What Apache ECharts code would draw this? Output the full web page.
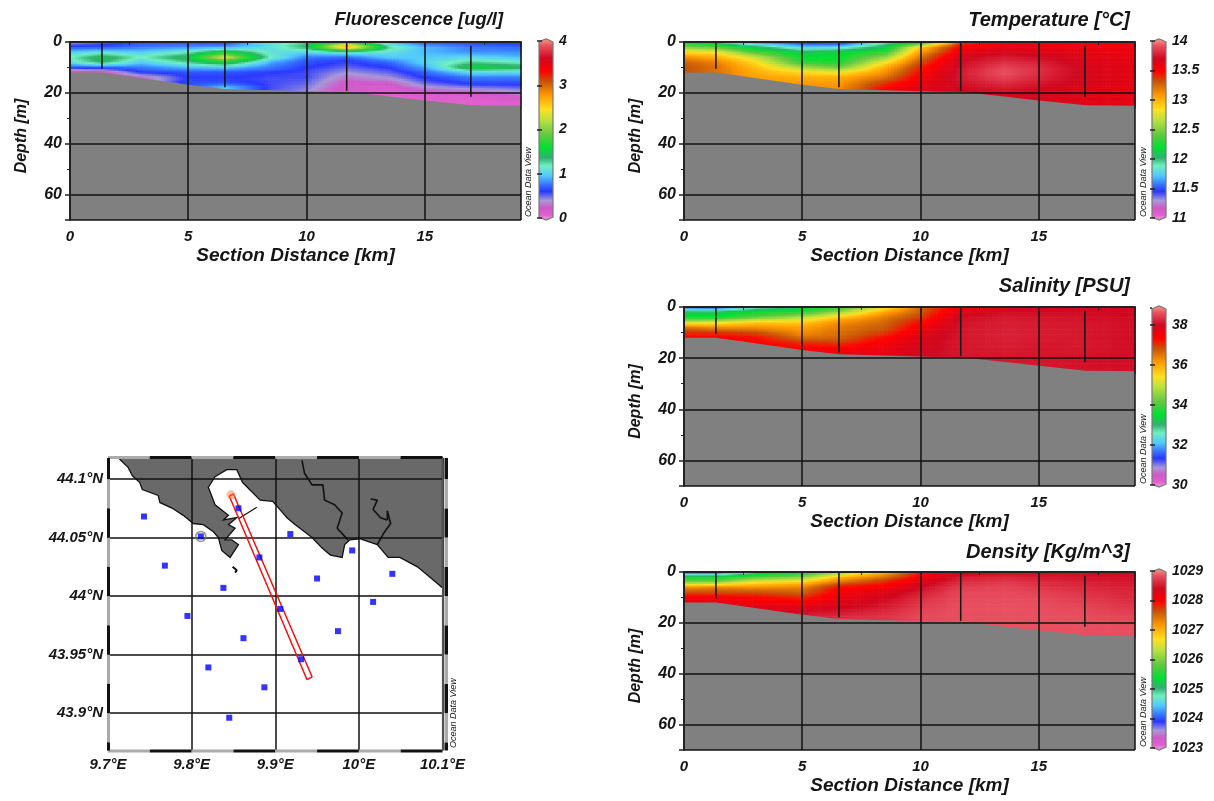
<!DOCTYPE html>
<html>
<head>
<meta charset="utf-8">
<style>html,body{margin:0;padding:0;background:#fff}#c{width:1214px;height:801px}</style>
<script src="https://cdn.jsdelivr.net/npm/echarts@6/dist/echarts.min.js"></script>
</head>
<body>
<div id="c"></div>
<script>
// ---------- Section data ----------
const distances = [0, 1.35, 3, 5, 6.55, 8.5, 10, 11.7, 13.5, 15, 17, 19.07];
const depths = [0, 2, 4, 6, 8, 10, 12, 14, 16, 18, 20, 22, 24, 26];
const seabedDistance = [0, 1.35, 3, 5, 6.55, 8.5, 10, 11.7, 12.5, 15, 17, 19.07];
const seabedDepth = [12, 12, 14.2, 16.8, 18.5, 19, 19.4, 19.8, 20.4, 23, 24.9, 25.1];
const stationDistance = [1.35, 6.55, 11.7, 16.95];
const stationTop = [0, 0, 0, 1.5];
const stationBottom = [10.5, 17.8, 19.2, 21.5];

const fluorescence = [
 [.42,.7,1.0,1.2,1.1,.7,.15],
 [.55,.7,1.1,1.5,1.4,.75,.2,.15],
 [.7,.8,1.0,1.2,1.0,.8,.65,.3],
 [.7,.85,1.2,1.5,1.3,.95,.7,.65,.7,.7],
 [.65,.9,1.6,2.35,1.6,1.0,.7,.65,.7,1.0,1.0],
 [1.1,1.1,1.1,1.2,.9,.8,.65,.6,.6,.6,.55],
 [1.3,1.4,1.05,.8,.7,.65,.6,.6,.55,.5,.45],
 [1.8,2.8,1.2,.75,.62,.55,.45,.35,.27,.22,.2,.18],
 [.9,1.3,1.1,1.0,.75,.65,.55,.45,.3,.2,.15,.12],
 [.7,.95,.95,1.0,1.05,.9,.75,.65,.55,.4,.2,.15,.12],
 [.65,.8,.85,1.05,1.3,1.6,1.05,.8,.7,.5,.25,.15,.12],
 [.6,.75,.85,.95,1.2,1.45,1.05,.8,.7,.55,.4,.25,.15]
];
const temperature = [
 [12.2,12.5,12.85,13.1,13.25,13.3,13.3],
 [12.0,12.4,12.8,13.0,13.15,13.2,13.2],
 [11.6,12.1,12.35,12.7,12.85,12.95,13.0,13.05],
 [11.45,11.75,12.1,12.2,12.3,12.6,12.85,13.0,13.05,13.1],
 [11.35,11.8,12.15,12.2,12.25,12.45,12.8,13.0,13.05,13.1],
 [11.9,12.1,12.3,12.55,12.8,13.0,13.1,13.2,13.35,13.45,13.5],
 [12.1,12.9,13.05,13.2,13.3,13.4,13.45,13.5,13.55,13.6,13.6],
 [13.3,13.5,13.55,13.65,13.68,13.7,13.72,13.72,13.7,13.68,13.66],
 [13.5,13.58,13.65,13.72,13.78,13.84,13.88,13.84,13.78,13.72,13.68,13.66],
 [13.5,13.56,13.62,13.68,13.74,13.78,13.78,13.76,13.72,13.68,13.66,13.64,13.63],
 [13.48,13.54,13.58,13.6,13.62,13.64,13.64,13.64,13.64,13.62,13.62,13.6,13.6],
 [13.48,13.52,13.54,13.56,13.57,13.58,13.58,13.58,13.58,13.58,13.58,13.58,13.58]
];
const salinity = [
 [31.6,33.2,33.6,35.0,36.5,37.0,37.2],
 [31.4,33.2,33.6,35.2,36.2,37.0,37.3],
 [32.6,33.5,34.2,35.6,36.2,36.8,37.2,37.3],
 [33.3,33.8,34.8,35.6,36.0,36.2,36.5,37.0,37.3,37.4],
 [33.8,34.6,35.6,36.2,36.4,36.5,36.6,36.9,37.3,37.5],
 [35.2,36.0,36.4,36.6,36.7,36.9,37.2,37.4,37.5,37.6,37.6],
 [36.6,36.7,36.9,37.2,37.4,37.6,37.7,37.8,37.8,37.85,37.85],
 [37.4,37.7,37.9,37.95,38.0,38.0,38.0,38.0,38.0,38.0,38.0],
 [37.7,37.9,38.0,38.05,38.05,38.08,38.08,38.05,38.05,38.0,38.0,38.0],
 [37.8,37.9,38.0,38.02,38.05,38.05,38.05,38.02,38.0,38.0,38.0,38.0,38.0],
 [37.8,37.9,37.95,37.98,38.0,38.0,38.0,38.0,38.0,37.98,37.95,37.95,37.95],
 [37.8,37.85,37.9,37.92,37.92,37.92,37.92,37.92,37.92,37.92,37.92,37.92,37.92]
];
const density = [
 [1024,1025.4,1026.0,1027.2,1027.6,1028.0,1028.15],
 [1023.9,1025.4,1026.0,1027.3,1027.6,1028.0,1028.2],
 [1024.9,1025.8,1026.6,1027.2,1027.6,1027.9,1028.05,1028.2],
 [1025.4,1026.0,1026.8,1027.3,1027.5,1027.75,1028.0,1028.2,1028.4,1028.5],
 [1026.0,1026.9,1027.4,1027.9,1028.0,1028.1,1028.2,1028.3,1028.45,1028.55],
 [1027.0,1027.4,1027.8,1028.0,1028.2,1028.3,1028.4,1028.45,1028.55,1028.6,1028.6],
 [1027.8,1028.0,1028.2,1028.35,1028.45,1028.55,1028.6,1028.65,1028.7,1028.72,1028.72],
 [1028.2,1028.45,1028.55,1028.65,1028.7,1028.72,1028.74,1028.75,1028.75,1028.75,1028.75],
 [1028.35,1028.5,1028.62,1028.7,1028.72,1028.74,1028.75,1028.76,1028.76,1028.76,1028.76,1028.76],
 [1028.35,1028.45,1028.55,1028.62,1028.68,1028.72,1028.74,1028.75,1028.76,1028.76,1028.76,1028.76,1028.76],
 [1028.35,1028.4,1028.47,1028.52,1028.58,1028.62,1028.66,1028.7,1028.72,1028.74,1028.75,1028.75,1028.75],
 [1028.32,1028.38,1028.42,1028.47,1028.5,1028.52,1028.55,1028.6,1028.65,1028.7,1028.72,1028.74,1028.75]
];

// ---------- Colour scale ----------
const paletteStops = [0,.03,.07,.11,.16,.2,.245,.30,.345,.40,.47,.55,.61,.69,.76,.82,.89,.96,1];
const paletteColors = ['#f5b0e8','#e060d0','#d058c8','#a898d8','#2838ff','#3878ff','#50c8ff','#70f0c0','#30b070','#00e030','#60c840','#b8e040','#ffe020','#ff9800','#c85808','#ff0000','#d00820','#e85060','#f8a088'];

// ---------- Map data ----------
const stationLon = [9.743,9.811,9.856,9.768,9.881,9.838,9.918,9.992,9.950,10.040,9.795,9.906,9.862,9.975,10.017,9.931,9.820,9.887,9.845];
const stationLat = [44.068,44.051,44.075,44.026,44.033,44.007,44.053,44.039,44.015,44.019,43.983,43.989,43.964,43.970,43.995,43.946,43.939,43.922,43.896];
const coastLon = [9.714,9.724,9.729,9.738,9.741,9.760,9.762,9.777,9.790,9.802,9.814,9.826,9.832,9.836,9.846,9.856,9.848,9.840,9.852,9.844,9.854,9.838,9.844,9.828,9.820,9.828,9.842,9.854,9.861,9.882,9.897,9.908,9.914,9.924,9.944,9.956,9.966,9.980,9.983,9.989,10.001,10.022,10.035,10.049,10.070,10.085,10.1,10.1,9.714];
const coastLat = [44.117,44.110,44.103,44.097,44.091,44.086,44.080,44.075,44.069,44.062,44.061,44.055,44.050,44.039,44.033,44.044,44.048,44.048,44.058,44.061,44.067,44.065,44.069,44.078,44.093,44.102,44.108,44.108,44.097,44.082,44.081,44.072,44.067,44.061,44.050,44.041,44.035,44.033,44.044,44.048,44.049,44.044,44.033,44.033,44.025,44.016,44.007,44.118,44.118];
const river1Lon = [9.932,9.935,9.944,9.957,9.959,9.971,9.980,9.974,9.987];
const river1Lat = [44.116,44.105,44.095,44.095,44.082,44.078,44.071,44.058,44.048];
const river2Lon = [10.014,10.022,10.017,10.026,10.034,10.034,10.038,10.029,10.022];
const river2Lat = [44.083,44.082,44.074,44.067,44.065,44.073,44.062,44.053,44.044];
const bayLineLon = [9.856,9.878];
const bayLineLat = [44.066,44.076];
const islandLon = [9.849,9.854,9.852];
const islandLat = [44.025,44.022,44.020];
const sectionLon = [9.845,9.850,9.944,9.938,9.845];
const sectionLat = [44.0855,44.0872,43.931,43.9285,44.0855];
const lonEdges = [9.7,9.75,9.8,9.85,9.9,9.95,10,10.05,10.1];
const latEdges = [43.868,43.875,43.9,43.925,43.95,43.975,44,44.025,44.05,44.075,44.1,44.118];
const latTicks = [43.9,43.95,44,44.05,44.1];

// ---------- Helpers ----------
const FONT = '"Liberation Sans", Arial, sans-serif';
const INK = '#151515';
function hex(c){return [1,3,5].map(i=>parseInt(c.substr(i,2),16));}
const paletteRgb = paletteColors.map(hex);
function colorAt(t){
  t=Math.max(0,Math.min(1,t));
  let i=0; while(i<paletteStops.length-2 && t>paletteStops[i+1]) i++;
  const f=(t-paletteStops[i])/(paletteStops[i+1]-paletteStops[i]);
  const a=paletteRgb[i],b=paletteRgb[i+1];
  return 'rgb('+[0,1,2].map(k=>Math.round(a[k]+(b[k]-a[k])*f)).join(',')+')';
}
function cell(field,i,j){const col=field[i];return j<col.length?col[j]:col[col.length-1];}
const textStyleBold={fontFamily:FONT,fontWeight:'bold',fontStyle:'italic',color:INK};

const panels=[
 {title:'Fluorescence [ug/l]',titleSize:18.4,field:fluorescence,left:70,top:42,width:451,height:178,barLeft:539,barTop:41,barH:177,min:0,max:4,tick:1,titleRight:503,titleTop:11,odvX:528},
 {title:'Temperature [°C]',titleSize:20,field:temperature,left:684,top:42,width:451,height:178,barLeft:1152,barTop:41,barH:177,min:11,max:14,tick:.5,titleRight:1130,titleTop:10,odvX:1143},
 {title:'Salinity [PSU]',titleSize:20,field:salinity,left:684,top:307,width:451,height:179,barLeft:1152,barTop:308,barH:177,min:30,max:38.85,tick:2,titleRight:1130,titleTop:276,odvX:1143},
 {title:'Density [Kg/m^3]',titleSize:20,field:density,left:684,top:572,width:451,height:178,barLeft:1152,barTop:571,barH:177,min:1023,max:1029,tick:1,titleRight:1130,titleTop:542,odvX:1143}
];

const grids=[],xAxes=[],yAxes=[],series=[],titles=[],graphics=[];

function addOdv(x,y){
  graphics.push({type:'text',x:x,y:y,rotation:Math.PI/2,
    style:{text:'Ocean Data View',font:'italic 9px '+FONT,fill:INK,textAlign:'left',textVerticalAlign:'middle'},z:50});
}

panels.forEach(p=>{
  const g=grids.length;
  const gy=yAxes.length;
  grids.push({left:p.left,top:p.top,width:p.width,height:p.height});
  xAxes.push({gridIndex:g,type:'value',min:0,max:19.07,interval:5,z:10,
    name:'Section Distance [km]',nameLocation:'middle',nameGap:26,
    nameTextStyle:Object.assign({fontSize:19},textStyleBold),
    axisLine:{lineStyle:{color:'#222',width:2}},
    axisTick:{length:5,lineStyle:{color:'#222',width:1.5}},
    minorTick:{show:true,splitNumber:2,length:3,lineStyle:{color:'#222',width:1}},
    axisLabel:Object.assign({fontSize:15,margin:9,showMaxLabel:false},textStyleBold),
    splitLine:{show:true,lineStyle:{color:'#111',width:1.5}}});
  yAxes.push({gridIndex:g,type:'value',inverse:true,min:0,max:70,interval:20,z:10,
    name:'Depth [m]',nameLocation:'middle',nameGap:40,nameRotate:90,
    nameTextStyle:Object.assign({fontSize:16,padding:[0,10,0,0]},textStyleBold),
    axisLine:{lineStyle:{color:'#222',width:2}},
    axisTick:{length:5,lineStyle:{color:'#222',width:1.5}},
    minorTick:{show:true,splitNumber:2,length:3,lineStyle:{color:'#222',width:1}},
    axisLabel:Object.assign({fontSize:16,margin:8,showMaxLabel:false},textStyleBold),
    splitLine:{show:true,lineStyle:{color:'#111',width:1.5}}});

  // field cells
  const cells=[];
  for(let i=0;i<distances.length-1;i++)for(let j=0;j<depths.length-1;j++)cells.push([distances[i],depths[j],cell(p.field,i,j),i,j]);
  series.push({type:'custom',xAxisIndex:g,yAxisIndex:gy,z:1,silent:true,progressive:0,animation:false,
    encode:{x:0,y:1},data:cells,
    renderItem:(params,api)=>{
      const i=api.value(3),j=api.value(4);
      const a=api.coord([distances[i],depths[j]]),b=api.coord([distances[i+1],depths[j+1]]);
      const nx=Math.max(2,Math.ceil((b[0]-a[0])/3)),ny=3;
      const w=(b[0]-a[0])/nx,h=(b[1]-a[1])/ny,kids=[];
      const v00=cell(p.field,i,j),v10=cell(p.field,i+1,j),v01=cell(p.field,i,j+1),v11=cell(p.field,i+1,j+1);
      for(let m=0;m<nx;m++)for(let n=0;n<ny;n++){
        const fx=(m+.5)/nx,fy=(n+.5)/ny;
        const v=v00*(1-fx)*(1-fy)+v10*fx*(1-fy)+v01*(1-fx)*fy+v11*fx*fy;
        kids.push({type:'rect',shape:{x:a[0]+m*w,y:a[1]+n*h,width:w+.6,height:h+.6},
          style:{fill:colorAt((v-p.min)/(p.max-p.min))}});
      }
      return {type:'group',children:kids};
    }});
  // seabed
  series.push({type:'custom',xAxisIndex:g,yAxisIndex:gy,z:3,silent:true,animation:false,
    encode:{x:0,y:1},data:seabedDepth.map((d,i)=>[seabedDistance[i],d]),
    renderItem:(params,api)=>{
      if(params.dataIndex!==0)return null;
      const pts=seabedDepth.map((d,i)=>api.coord([seabedDistance[i],d]));
      pts.push(api.coord([19.07,70]),api.coord([0,70]));
      return {type:'polygon',shape:{points:pts},style:{fill:'#808080'}};
    }});
  // station casts
  series.push({type:'custom',xAxisIndex:g,yAxisIndex:gy,z:5,silent:true,animation:false,
    encode:{x:0,y:1},data:stationDistance.map((d,i)=>[d,stationBottom[i],stationTop[i]]),
    renderItem:(params,api)=>{
      const a=api.coord([api.value(0),api.value(2)]),b=api.coord([api.value(0),api.value(1)]);
      return {type:'line',shape:{x1:a[0],y1:a[1],x2:b[0],y2:b[1]},style:{stroke:'#111',lineWidth:1.5}};
    }});
  titles.push({text:p.title,right:1214-p.titleRight,top:p.titleTop,padding:0,
    textStyle:Object.assign({fontSize:p.titleSize},textStyleBold)});
  addOdv(p.odvX,p.barTop+p.barH-1);

  // colour bar
  const c=grids.length;
  grids.push({left:p.barLeft,top:p.barTop,width:14,height:p.barH});
  xAxes.push({gridIndex:c,type:'value',min:0,max:1,show:false});
  const rightAxis=yAxes.length;
  yAxes.push({gridIndex:c,type:'value',position:'right',min:p.min,max:p.max,interval:p.tick,z:10,
    axisLine:{show:false},splitLine:{show:false},
    axisTick:{show:true,length:3,lineStyle:{color:'#222',width:1.5}},
    axisLabel:Object.assign({fontSize:14,margin:6,showMaxLabel:p.max%p.tick===0,formatter:v=>String(v)},textStyleBold)});
  yAxes.push({gridIndex:c,type:'value',position:'left',min:p.min,max:p.max,interval:p.tick,z:10,
    axisLine:{show:false},splitLine:{show:false},axisLabel:{show:false},
    axisTick:{show:true,length:2,lineStyle:{color:'#222',width:1.5}}});
  series.push({type:'custom',xAxisIndex:c,yAxisIndex:rightAxis,z:2,silent:true,animation:false,
    encode:{x:0,y:1},data:[[0,p.min,1,p.max]],
    renderItem:(params,api)=>{
      const a=api.coord([0,p.min]),b=api.coord([1,p.max]);
      const mid=(a[0]+b[0])/2;
      const stops=paletteStops.map((s,i)=>({offset:1-s,color:paletteColors[i]})).reverse();
      return {type:'polygon',shape:{points:[[a[0],b[1]+1],[mid-3,b[1]-1],[mid,b[1]-2],[mid+3,b[1]-1],[b[0],b[1]+1],[b[0],a[1]-1],[mid,a[1]+2],[a[0],a[1]-1]]},
        style:{fill:new echarts.graphic.LinearGradient(0,0,0,1,stops),stroke:'#777',lineWidth:1.2}};
    }});
});

// ---------- Map ----------
const m=grids.length;
grids.push({left:108,top:458,width:334.5,height:292.5});
const tickLine={show:true,lineStyle:{color:'#111',width:1.5}};
xAxes.push({gridIndex:m,type:'value',min:9.7,max:10.1,interval:.1,z:10,
  axisLine:{show:false},axisTick:{show:false},
  axisLabel:Object.assign({fontSize:15,margin:7,formatter:v=>+v.toFixed(1)+'°E',showMaxLabel:true,showMinLabel:true},textStyleBold),
  splitLine:tickLine});
yAxes.push({gridIndex:m,type:'value',min:43.868,max:44.118,z:10,
  axisLine:{show:false},
  axisTick:{show:false,customValues:latTicks},
  axisLabel:Object.assign({fontSize:15,margin:5,customValues:latTicks,formatter:v=>+v.toFixed(2)+'°N'},textStyleBold),
  splitLine:tickLine});
const xy=(xs,ys)=>xs.map((x,i)=>[x,ys[i]]);
const my=yAxes.length-1;
function polyline(xs,ys,color,width,z){
  return {type:'line',xAxisIndex:m,yAxisIndex:my,data:xy(xs,ys),showSymbol:false,symbol:'none',silent:true,animation:false,z:z,lineStyle:{color:color,width:width}};
}
series.push({type:'custom',xAxisIndex:m,yAxisIndex:my,z:1,silent:true,animation:false,
  encode:{x:0,y:1},data:xy(coastLon,coastLat),
  renderItem:(params,api)=>{
    if(params.dataIndex!==0)return null;
    return {type:'polygon',shape:{points:coastLon.map((x,i)=>api.coord([x,coastLat[i]]))},style:{fill:'#696969',stroke:'#111',lineWidth:1.3}};
  }});
series.push(polyline(river1Lon,river1Lat,'#111',1.6,4));
series.push(polyline(river2Lon,river2Lat,'#111',1.6,4));
series.push(polyline(bayLineLon,bayLineLat,'#111',1.2,4));
series.push(polyline(islandLon,islandLat,'#111',2,4));
series.push(polyline(sectionLon,sectionLat,'#ee1111',1.5,15));
series.push({type:'scatter',xAxisIndex:m,yAxisIndex:my,z:16,silent:true,animation:false,symbol:'circle',symbolSize:9,
  data:[[sectionLon[0]+.002,sectionLat[0]+.001]],itemStyle:{color:'rgba(255,120,60,.6)'}});
series.push({type:'scatter',xAxisIndex:m,yAxisIndex:my,z:18,silent:true,animation:false,symbol:'rect',symbolSize:6,
  data:xy(stationLon,stationLat),itemStyle:{color:'#0000ff'}});
series.push({type:'scatter',xAxisIndex:m,yAxisIndex:my,z:17,silent:true,animation:false,symbol:'circle',symbolSize:10,
  data:[[stationLon[1],stationLat[1]]],itemStyle:{color:'rgba(0,0,0,0)',borderColor:'#777',borderWidth:1.5}});
// frame bands
series.push({type:'custom',xAxisIndex:m,yAxisIndex:my,z:12,silent:true,animation:false,
  encode:{x:0},data:lonEdges.slice(0,-1).map((e,i)=>[e,i]),
  renderItem:(params,api)=>{
    const i=api.value(1),a=lonEdges[i],b=lonEdges[i+1];
    const col=i%2?'#111':'#aaa';
    const t0=api.coord([a,44.118]),t1=api.coord([b,44.118]),b0=api.coord([a,43.868]);
    return {type:'group',children:[
      {type:'rect',shape:{x:t0[0],y:t0[1]-2,width:t1[0]-t0[0],height:3},style:{fill:col}},
      {type:'rect',shape:{x:t0[0],y:b0[1]-1,width:t1[0]-t0[0],height:3},style:{fill:col}}]};
  }});
series.push({type:'custom',xAxisIndex:m,yAxisIndex:my,z:12,silent:true,animation:false,
  encode:{y:0},data:latEdges.slice(0,-1).map((e,i)=>[e,i]),
  renderItem:(params,api)=>{
    const i=api.value(1),a=latEdges[i],b=latEdges[i+1];
    const col=i%2?'#aaa':'#111';
    const p0=api.coord([9.7,a]),p1=api.coord([9.7,b]),r0=api.coord([10.1,a]);
    return {type:'group',children:[
      {type:'rect',shape:{x:p0[0]-1,y:p1[1],width:3,height:p0[1]-p1[1]},style:{fill:col}},
      {type:'rect',shape:{x:r0[0]+2,y:p1[1],width:3.5,height:p0[1]-p1[1]},style:{fill:col}},
      {type:'line',shape:{x1:r0[0],y1:p1[1],x2:r0[0],y2:p0[1]},style:{stroke:'#555',lineWidth:1.2}}]};
  }});
addOdv(453,748);

const chart=echarts.init(document.getElementById('c'),null,{renderer:'canvas'});
chart.setOption({animation:false,backgroundColor:'#fff',title:titles,grid:grids,xAxis:xAxes,yAxis:yAxes,series:series,graphic:graphics});
</script>
</body>
</html>
